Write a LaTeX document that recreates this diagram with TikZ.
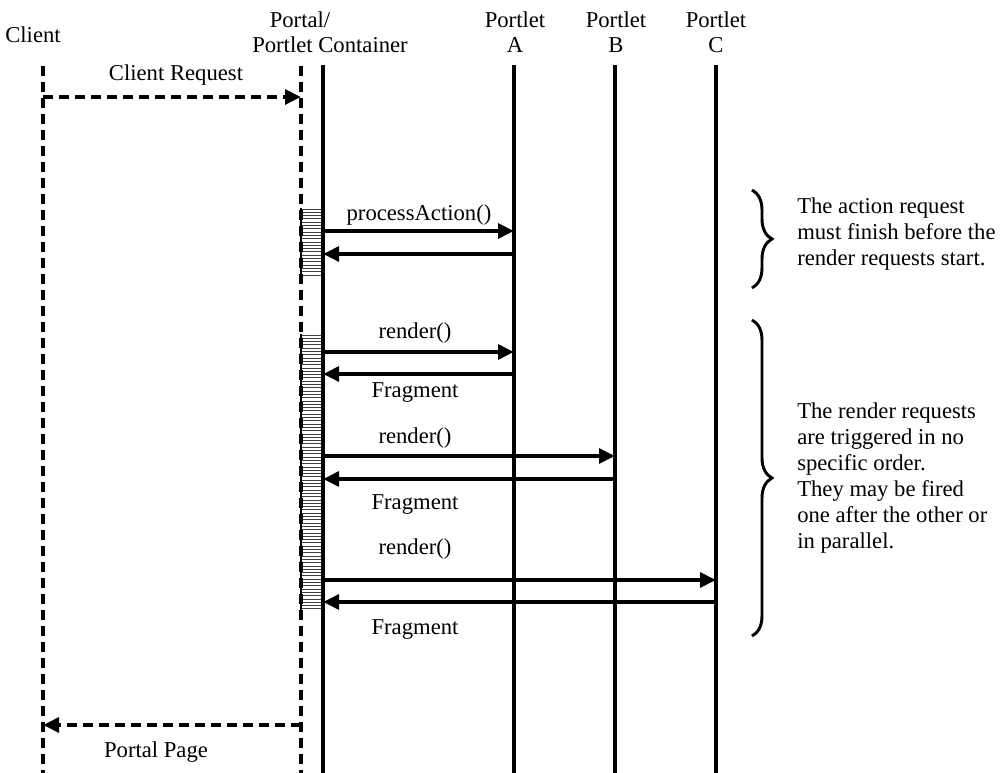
\documentclass[tikz,border=0pt]{standalone}
\usepackage{fontspec}
\setmainfont{Liberation Serif}
\usetikzlibrary{arrows.meta,decorations.pathreplacing}
\begin{document}
\begin{tikzpicture}[x=0.75pt,y=-0.75pt,
  lbl/.style={font=\fontsize{17}{19.5}\selectfont,inner sep=0pt},
  life/.style={line width=2.7pt},
  dlife/.style={line width=2.7pt,dash pattern=on 7.5pt off 4.5pt},
  msg/.style={line width=2.7pt,-{Triangle[length=12pt,width=11pt]}},
  dmsg/.style={line width=2.7pt,dash pattern=on 7.5pt off 4.5pt,-{Triangle[length=12pt,width=11pt]}},
  brc/.style={line width=2.2pt,decorate,decoration={brace,amplitude=15pt}},
  note/.style={lbl,align=left,anchor=north west}]
\useasboundingbox (0,0) rectangle (1004,773);
% headers
\node[lbl] (hclient) at (33,35) {Client};
\node[lbl] (hportal) at (300,20) {Portal/};
\node[lbl] (hcont) at (330,45) {Portlet Container};
\node[lbl] (ha1) at (515,20) {Portlet};
\node[lbl] (ha2) at (515,45) {A};
\node[lbl] (hb1) at (616,20) {Portlet};
\node[lbl] (hb2) at (616,45) {B};
\node[lbl] (hc1) at (716,20) {Portlet};
\node[lbl] (hc2) at (716,45) {C};
% lifeline ends
\coordinate (cl0) at (43,66);  \coordinate (cl1) at (43,773);
\coordinate (pd0) at (301,66); \coordinate (pd1) at (301,773);
\coordinate (ps0) at (323,65); \coordinate (ps1) at (323,773);
\coordinate (a0) at (514,65);  \coordinate (a1) at (514,773);
\coordinate (b0) at (615,65);  \coordinate (b1) at (615,773);
\coordinate (c0) at (716,65);  \coordinate (c1) at (716,773);
% activation bars
\fill[white] (301,208) rectangle (323,276);
\fill[white] (301,334) rectangle (323,612);
\foreach \y in {209,212.3,...,276} \draw[line width=0.7pt,black!75] (301,\y) -- (323,\y);
\foreach \y in {335,338.3,...,612} \draw[line width=0.7pt,black!75] (301,\y) -- (323,\y);
% lifelines
\draw[dlife] (cl0) -- (cl1);
\draw[dlife] (pd0) -- (pd1);
\draw[line width=1.2pt] (301,208) -- (301,276);
\draw[line width=1.2pt] (301,334) -- (301,612);
\draw[life] (ps0) -- (ps1);
\draw[life] (a0) -- (a1);
\draw[life] (b0) -- (b1);
\draw[life] (c0) -- (c1);
% message points
\coordinate (crq0) at (43,97);  \coordinate (crq1) at (301,97);
\coordinate (pp0) at (301,725); \coordinate (pp1) at (43,725);
\coordinate (m1s) at (323,231); \coordinate (m1e) at (514,231);
\coordinate (r1s) at (514,254); \coordinate (r1e) at (323,254);
\coordinate (m2s) at (323,352); \coordinate (m2e) at (514,352);
\coordinate (r2s) at (514,374); \coordinate (r2e) at (323,374);
\coordinate (m3s) at (323,456); \coordinate (m3e) at (615,456);
\coordinate (r3s) at (615,479); \coordinate (r3e) at (323,479);
\coordinate (m4s) at (323,580); \coordinate (m4e) at (716,580);
\coordinate (r4s) at (716,602); \coordinate (r4e) at (323,602);
% messages
\draw[dmsg] (crq0) -- (crq1);
\draw[dmsg] (pp0) -- (pp1);
\draw[msg] (m1s) -- (m1e);
\draw[msg] (r1s) -- (r1e);
\draw[msg] (m2s) -- (m2e);
\draw[msg] (r2s) -- (r2e);
\draw[msg] (m3s) -- (m3e);
\draw[msg] (r3s) -- (r3e);
\draw[msg] (m4s) -- (m4e);
\draw[msg] (r4s) -- (r4e);
% labels
\node[lbl] (lcr) at (176,75) {Client Request};
\node[lbl] (lpp) at (156,752) {Portal Page};
\node[lbl] (lpa) at (419,215) {processAction()};
\node[lbl] (lr1) at (415,333) {render()};
\node[lbl] (lf1) at (415,393) {Fragment};
\node[lbl] (lr2) at (415,438) {render()};
\node[lbl] (lf2) at (415,505) {Fragment};
\node[lbl] (lr3) at (415,549) {render()};
\node[lbl] (lf3) at (415,630) {Fragment};
% braces
\coordinate (br1a) at (752,190); \coordinate (br1b) at (752,288);
\coordinate (br2a) at (752,320); \coordinate (br2b) at (752,636);
\draw[brc] (br1a) -- (br1b);
\draw[brc] (br2a) -- (br2b);
% notes
\node[note] (n1) at (797,198) {The action request\\must finish before the\\render requests start.};
\node[note] (n2) at (797,403) {The render requests\\are triggered in no\\specific order.\\They may be fired\\one after the other or\\in parallel.};
\end{tikzpicture}
\end{document}
